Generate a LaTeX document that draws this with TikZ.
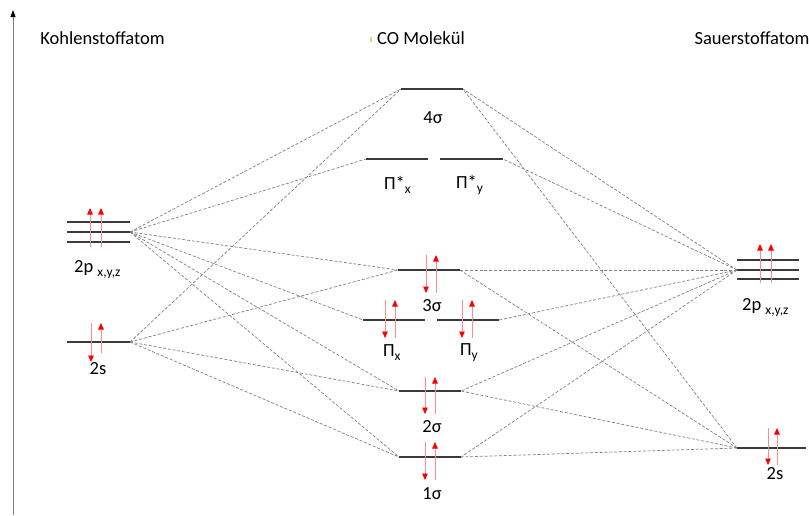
\documentclass[tikz,border=0pt]{standalone}
\usepackage{fontspec}
\setmainfont{Carlito}
\usetikzlibrary{arrows.meta}
\definecolor{levelcol}{HTML}{3A3A3A}
\definecolor{conncol}{HTML}{808080}
\definecolor{markcol}{HTML}{F2C98A}
\tikzset{
  level/.style={draw=levelcol, line width=1.1pt},
  conn/.style={draw=conncol, line width=0.7pt, dash pattern=on 3pt off 1.8pt},
  spin/.style={draw=red!45, line width=0.9pt,
    -{Triangle[color=red, length=6.5pt, width=5.5pt]}},
  lbl/.style={inner sep=0pt, font=\fontsize{18.5}{22}\selectfont},
  head/.style={inner sep=0pt, font=\fontsize{18.5}{22}\selectfont},
}
\newcommand{\sbs}[1]{\raisebox{-0.45ex}{\fontsize{13.5}{16}\selectfont #1}}
\begin{document}
\begin{tikzpicture}[x=1pt, y=-1pt]
\useasboundingbox (0,0) rectangle (809,515);

% energy axis
\draw[draw=gray, line width=0.9pt, -{Triangle[color=black, length=7pt, width=5pt]}] (13,515) -- (13,10);

% headings
\node[head] (hC) at (102.5,38) {Kohlenstoffatom};
\node[head] (hCO) at (421,38) {CO Molekül};
\node[head] (hO) at (752,38) {Sauerstoffatom};
\fill[markcol] (370,37) rectangle (372,42);

% ---- carbon atom ----
\draw[level] (67,222) -- (130,222);
\draw[level] (67,232) -- (130,232);
\draw[level] (67,242) -- (130,242);
\coordinate (c2p) at (130,232);
\draw[spin] (90,247) -- (90,208);
\draw[spin] (101,247) -- (101,208);
\node[lbl, anchor=west] (l2pC) at (74,270) {2p \sbs{x,y,z}};

\draw[level] (67,342) -- (130,342);
\coordinate (c2s) at (130,342);
\draw[spin] (91,323) -- (91,362);
\draw[spin] (101,353) -- (101,323);
\node[lbl] (l2sC) at (98,369) {2s};

% ---- oxygen atom ----
\draw[level] (737,260) -- (799,260);
\draw[level] (737,270) -- (799,270);
\draw[level] (737,279) -- (799,279);
\coordinate (o2p) at (737,270);
\draw[spin] (760,283) -- (760,244);
\draw[spin] (771,283) -- (771,244);
\node[lbl, anchor=west] (l2pO) at (742,308) {2p \sbs{x,y,z}};

\draw[level] (737,448) -- (806,448);
\coordinate (o2s) at (737,448);
\draw[spin] (768,428) -- (768,465);
\draw[spin] (777,465) -- (777,428);
\node[lbl] (l2sO) at (775,474) {2s};

% ---- molecular orbitals ----
% 4 sigma
\draw[level] (401,89) -- (463,89);
\coordinate (s4L) at (401,89); \coordinate (s4R) at (463,89);
\node[lbl] (l4s) at (433,118) {4σ};
% pi*
\draw[level] (366,159) -- (428,159);
\draw[level] (440,159) -- (503,159);
\coordinate (psxL) at (366,159); \coordinate (psyR) at (503,159);
\node[lbl, anchor=west] (lpsx) at (384,185) {Π*\sbs{x}};
\node[lbl, anchor=west] (lpsy) at (456,185) {Π*\sbs{y}};
% 3 sigma
\draw[level] (398,270) -- (460,270);
\coordinate (s3L) at (398,270); \coordinate (s3R) at (460,270);
\draw[spin] (426,255) -- (426,293);
\draw[spin] (436,293) -- (436,255);
\node[lbl] (l3s) at (432,306) {3σ};
% pi
\draw[level] (363,320) -- (425,320);
\draw[level] (437,320) -- (499,320);
\coordinate (pxL) at (363,320); \coordinate (pyR) at (499,320);
\draw[spin] (385,300) -- (385,338);
\draw[spin] (395,338) -- (395,300);
\draw[spin] (462,300) -- (462,338);
\draw[spin] (472,338) -- (472,300);
\node[lbl, anchor=west] (lpx) at (383,353) {Π\sbs{x}};
\node[lbl, anchor=west] (lpy) at (460,353) {Π\sbs{y}};
% 2 sigma
\draw[level] (399,391) -- (461,391);
\coordinate (s2L) at (399,391); \coordinate (s2R) at (461,391);
\draw[spin] (425,377) -- (425,414);
\draw[spin] (435,414) -- (435,377);
\node[lbl] (l2s) at (432,427) {2σ};
% 1 sigma
\draw[level] (399,457) -- (461,457);
\coordinate (s1L) at (399,457); \coordinate (s1R) at (461,457);
\draw[spin] (425,442) -- (425,480);
\draw[spin] (435,480) -- (435,442);
\node[lbl] (l1s) at (432,493.5) {1σ};

% ---- correlation lines ----
\foreach \t in {s4L,psxL,s3L,pxL,s2L,s1L} \draw[conn] (c2p) -- (\t);
\foreach \t in {s4L,s3L,s2L,s1L} \draw[conn] (c2s) -- (\t);
\foreach \t in {s4R,psyR,s3R,pyR,s2R,s1R} \draw[conn] (o2p) -- (\t);
\foreach \t in {s4R,s3R,s2R,s1R} \draw[conn] (o2s) -- (\t);
\end{tikzpicture}
\end{document}
